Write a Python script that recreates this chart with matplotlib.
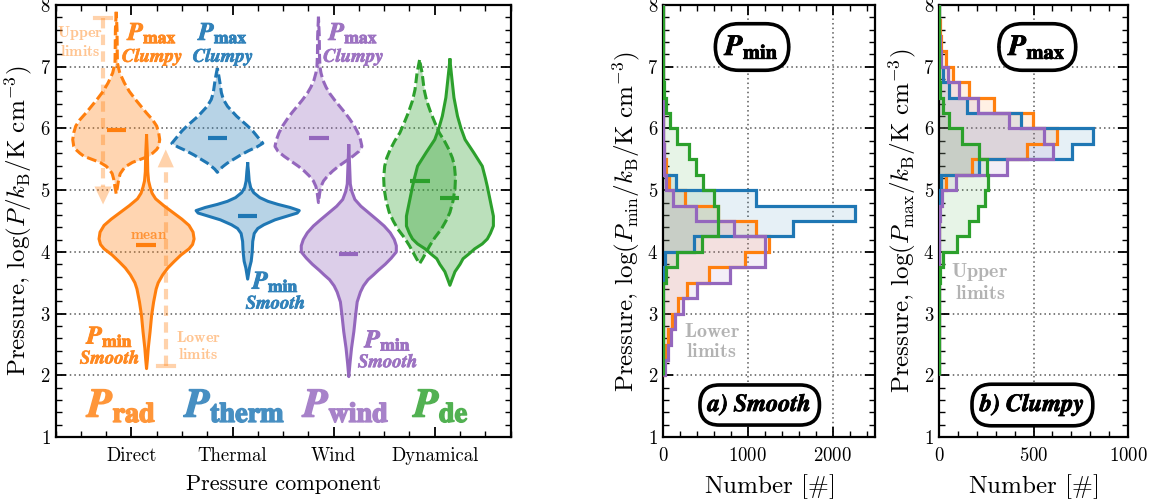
import numpy as np
import matplotlib
matplotlib.use("Agg")
import matplotlib.pyplot as plt
import matplotlib.colors as mcolors
import matplotlib.patheffects as pe
from matplotlib.ticker import MultipleLocator

plt.rcParams.update({
    "font.family": "serif",
    "font.serif": ["cmr10"],
    "mathtext.fontset": "cm",
    "axes.unicode_minus": False,
    "axes.formatter.use_mathtext": True,
})

# ---------------- data ----------------
categories = ["Direct", "Thermal", "Wind", "Dynamical"]
colors = ["#ff7f0e", "#1f77b4", "#9467bd", "#2ca02c"]
big_labels = [r"$\mathbfit{P}_{\mathbf{rad}}$", r"$\mathbfit{P}_{\mathbf{therm}}$",
              r"$\mathbfit{P}_{\mathbf{wind}}$", r"$\mathbfit{P}_{\mathbf{de}}$"]

mean_pmax = [5.98, 5.85, 5.85, 5.15]
mean_pmin = [4.12, 4.59, 3.97, 4.87]

# violin profiles: levels (log P) and half widths
direct_max_y = [7.89, 7.6, 7.3, 7.06, 6.9, 6.74, 6.6, 6.47, 6.35, 6.25, 6.14, 6.04, 5.93,
                5.82, 5.71, 5.66, 5.6, 5.55, 5.5, 5.45, 5.39, 5.34, 5.27, 5.18, 5.05, 4.94]
direct_max_w = [0.0, 0.008, 0.01, 0.012, 0.035, 0.08, 0.13, 0.19, 0.25, 0.30, 0.36, 0.40, 0.42,
                0.43, 0.42, 0.40, 0.36, 0.32, 0.24, 0.16, 0.10, 0.07, 0.04, 0.025, 0.012, 0.0]
direct_min_y = [5.88, 5.6, 5.3, 5.15, 5.05, 4.95, 4.86, 4.75, 4.64, 4.53, 4.43, 4.32, 4.21, 4.12,
                4.05, 3.95, 3.84, 3.74, 3.63, 3.5, 3.4, 3.19, 2.97, 2.71, 2.44, 2.25, 2.11]
direct_min_w = [0.0, 0.008, 0.012, 0.02, 0.035, 0.055, 0.09, 0.17, 0.26, 0.35, 0.42, 0.46, 0.47,
                0.455, 0.42, 0.34, 0.27, 0.21, 0.16, 0.115, 0.095, 0.07, 0.05, 0.035, 0.017,
                0.008, 0.0]
thermal_max_y = [6.98, 6.85, 6.74, 6.58, 6.47, 6.36, 6.28, 6.2, 6.12, 6.04, 5.96, 5.88, 5.82,
                 5.76, 5.7, 5.64, 5.57, 5.5, 5.44, 5.39, 5.34, 5.29]
thermal_max_w = [0.0, 0.015, 0.026, 0.04, 0.06, 0.10, 0.145, 0.19, 0.245, 0.30, 0.35, 0.39, 0.42,
                 0.45, 0.39, 0.31, 0.23, 0.16, 0.10, 0.06, 0.025, 0.0]
thermal_min_y = [5.43, 5.3, 5.15, 5.04, 4.96, 4.88, 4.82, 4.77, 4.72, 4.67, 4.63, 4.58, 4.52,
                 4.44, 4.38, 4.3, 4.17, 4.0, 3.85, 3.74, 3.56]
thermal_min_w = [0.0, 0.008, 0.015, 0.03, 0.06, 0.12, 0.20, 0.30, 0.42, 0.51, 0.49, 0.39, 0.27,
                 0.16, 0.10, 0.065, 0.05, 0.045, 0.035, 0.018, 0.0]
wind_max_y = [7.81, 7.5, 7.2, 7.0, 6.9, 6.78, 6.67, 6.57, 6.46, 6.36, 6.25, 6.15, 6.04, 5.93,
              5.82, 5.71, 5.63, 5.55, 5.47, 5.39, 5.31, 5.23, 5.15, 5.06, 4.95, 4.8]
wind_max_w = [0.0, 0.008, 0.01, 0.015, 0.025, 0.045, 0.075, 0.11, 0.16, 0.21, 0.265, 0.31, 0.355,
              0.39, 0.415, 0.43, 0.40, 0.34, 0.27, 0.20, 0.14, 0.09, 0.05, 0.025, 0.012, 0.0]
wind_min_y = [5.72, 5.4, 5.1, 4.98, 4.85, 4.74, 4.63, 4.52, 4.42, 4.31, 4.2, 4.1, 4.0, 3.9, 3.8,
              3.7, 3.63, 3.55, 3.45, 3.35, 3.19, 2.97, 2.71, 2.44, 2.2, 1.98]
wind_min_w = [0.0, 0.008, 0.015, 0.03, 0.06, 0.12, 0.20, 0.28, 0.35, 0.41, 0.45, 0.47, 0.47, 0.42,
              0.36, 0.29, 0.245, 0.19, 0.145, 0.115, 0.083, 0.067, 0.05, 0.027, 0.012, 0.0]
dyn_max_y = [7.11, 6.9, 6.63, 6.45, 6.26, 6.1, 5.93, 5.8, 5.66, 5.52, 5.39, 5.2, 5.02, 4.82,
             4.64, 4.5, 4.37, 4.23, 4.1, 3.98, 3.89, 3.81]
dyn_max_w = [0.0, 0.025, 0.045, 0.07, 0.11, 0.15, 0.195, 0.245, 0.29, 0.325, 0.345, 0.355, 0.35,
             0.33, 0.30, 0.26, 0.215, 0.15, 0.10, 0.06, 0.03, 0.0]
dyn_min_y = [7.11, 6.8, 6.5, 6.2, 6.0, 5.82, 5.61, 5.39, 5.2, 5.06, 4.9, 4.74, 4.58, 4.42, 4.3,
             4.21, 4.13, 4.05, 3.97, 3.89, 3.8, 3.68, 3.55, 3.46]
dyn_min_w = [0.0, 0.02, 0.04, 0.075, 0.11, 0.15, 0.235, 0.32, 0.35, 0.37, 0.39, 0.41, 0.43, 0.43,
             0.40, 0.37, 0.32, 0.245, 0.19, 0.13, 0.10, 0.05, 0.02, 0.0]

pmax_profiles = [(direct_max_y, direct_max_w), (thermal_max_y, thermal_max_w),
                 (wind_max_y, wind_max_w), (dyn_max_y, dyn_max_w)]
pmin_profiles = [(direct_min_y, direct_min_w), (thermal_min_y, thermal_min_w),
                 (wind_min_y, wind_min_w), (dyn_min_y, dyn_min_w)]

# histogram counts, bins of 0.25 dex from 2.0 to 8.0
bin_edges = np.arange(2.0, 8.01, 0.25)
pmin_direct = [10, 30, 60, 100, 178, 277, 540, 970, 1250, 1100, 650, 257, 75, 30, 10, 5,
               0, 0, 0, 0, 0, 0, 0, 0]
pmin_thermal = [0, 0, 0, 0, 0, 0, 8, 25, 367, 1530, 2265, 1095, 150, 10, 0, 0,
                0, 0, 0, 0, 0, 0, 0, 0]
pmin_wind = [28, 59, 99, 138, 230, 405, 787, 1200, 1200, 834, 388, 115, 40, 15, 8, 0,
             0, 0, 0, 0, 0, 0, 0, 0]
pmin_dyn = [0, 0, 0, 0, 0, 0, 40, 162, 460, 647, 652, 600, 467, 390, 312, 168,
            87, 40, 8, 4, 2, 0, 0, 0]
pmax_direct = [0, 0, 0, 0, 0, 0, 0, 0, 0, 0, 0, 8, 37, 174, 463, 625,
               495, 292, 157, 76, 37, 12, 5, 2]
pmax_thermal = [0, 0, 0, 0, 0, 0, 0, 0, 0, 0, 0, 0, 10, 213, 706, 817,
                433, 146, 51, 20, 5, 0, 0, 0]
pmax_wind = [0, 0, 0, 0, 0, 0, 0, 0, 0, 0, 5, 16, 90, 359, 604, 556,
             368, 204, 104, 46, 10, 5, 2, 0]
pmax_dyn = [0, 0, 0, 0, 0, 0, 5, 23, 93, 157, 204, 245, 257, 252, 213, 121,
            55, 19, 5, 2, 0, 0, 0, 0]

pmin_hists = [pmin_direct, pmin_thermal, pmin_wind, pmin_dyn]
pmax_hists = [pmax_direct, pmax_thermal, pmax_wind, pmax_dyn]

DASH = (0, (3.2, 1.3))
LABEL_FS = 18


def light(c, a):
    # colour c laid at opacity a over white, as a solid colour
    rgb = np.array(mcolors.to_rgb(c))
    return tuple(a * rgb + (1 - a))


def bold(c, w):
    return [pe.withStroke(linewidth=w, foreground=c)]


def style_axes(ax):
    ax.tick_params(which="both", direction="in", top=True, right=True, labelsize=13.5)
    ax.tick_params(which="major", length=7, width=1.3)
    ax.tick_params(which="minor", length=4, width=1.0)
    ax.tick_params(axis="x", pad=7)
    for s in ax.spines.values():
        s.set_linewidth(1.6)
    ax.set_ylim(1, 8)
    ax.yaxis.set_major_locator(MultipleLocator(1))
    ax.yaxis.set_minor_locator(MultipleLocator(0.2))
    ax.set_axisbelow(True)


def draw_violin(ax, xc, ys, hw, color, ls):
    ys = np.asarray(ys)
    hw = np.asarray(hw)
    ax.fill_betweenx(ys, xc - hw, xc + hw, color=color, alpha=0.32, lw=0, zorder=2)
    px = np.concatenate([xc - hw, (xc + hw)[::-1]])
    py = np.concatenate([ys, ys[::-1]])
    ax.plot(px, py, color=color, lw=2.2, ls=ls, zorder=3, solid_joinstyle="round")


def pair_label(ax, x, y, top, bottom, color):
    # "P_x" over a bold-italic tag, stacked so the two boxes just touch
    col = light(color, 0.92)
    ax.text(x, y - 0.2, top, color=col, ha="center", va="bottom", fontsize=18,
            math_fontfamily="stix", path_effects=bold(col, 0.7))
    ax.text(x, y - 0.21, r"$\mathbfit{%s}$" % bottom, color=col, ha="center",
            va="top", fontsize=13.5, math_fontfamily="stix", path_effects=bold(col, 0.5))


fig = plt.figure(figsize=(11.62, 5.03), dpi=100)
ax0 = fig.add_axes([0.0478, 0.131, 0.3916, 0.859])
ax1 = fig.add_axes([0.5706, 0.131, 0.1824, 0.859])
ax2 = fig.add_axes([0.8081, 0.131, 0.1627, 0.859])

# ---------------- violin panel ----------------
style_axes(ax0)
ax0.set_xlim(0.25, 4.75)
pos = np.arange(1, len(categories) + 1)
ax0.set_xticks(pos)
ax0.set_xticklabels(categories)
ax0.xaxis.set_minor_locator(MultipleLocator(0.25))
ax0.grid(axis="y", ls=(0, (1, 2)), color="0.35", lw=1.1)

for i, c in enumerate(colors):
    y, w = pmax_profiles[i]
    draw_violin(ax0, pos[i] - 0.15, y, w, c, DASH)
for i, c in enumerate(colors):
    y, w = pmin_profiles[i]
    draw_violin(ax0, pos[i] + 0.15, y, w, c, "-")
for i, c in enumerate(colors):
    ax0.hlines(mean_pmax[i], pos[i] - 0.24, pos[i] - 0.05, color=c, lw=3, zorder=4)
    ax0.hlines(mean_pmin[i], pos[i] + 0.05, pos[i] + 0.24, color=c, lw=3, zorder=4)

# limit arrows
lim_kw = dict(color=colors[0], alpha=0.35, zorder=1)
ax0.plot([0.72, 0.72], [7.79, 5.06], lw=3, ls=(0, (2.5, 1.5)), **lim_kw)
ax0.plot([0.64, 0.80], [7.79, 7.79], lw=3, **lim_kw)
ax0.fill([0.635, 0.805, 0.72], [5.06, 5.06, 4.77], lw=0, **lim_kw)
ax0.plot([1.34, 1.34], [2.145, 5.37], lw=3, ls=(0, (2.5, 1.5)), **lim_kw)
ax0.plot([1.26, 1.42], [2.145, 2.145], lw=3, **lim_kw)
ax0.fill([1.26, 1.42, 1.34], [5.37, 5.37, 5.66], lw=0, **lim_kw)

lt_kw = dict(color=colors[0], alpha=0.45, ha="center", va="center", fontsize=11.5,
             linespacing=1.15)
ax0.text(0.49, 7.41, r"$\mathbf{Upper}$" + "\n" + r"$\mathbf{limits}$", **lt_kw)
ax0.text(1.66, 2.48, r"$\mathbf{Lower}$" + "\n" + r"$\mathbf{limits}$", **lt_kw)
ax0.text(1.17, 4.27, r"$\mathbf{mean}$", color=colors[0], alpha=0.75, ha="center",
         va="center", fontsize=11)

# component annotations
top_x = [1.21, 1.91, 3.20]
for x, c in zip(top_x, colors[:3]):
    pair_label(ax0, x, 7.55, r"$\mathbfit{P}_{\mathbf{max}}$", "Clumpy", c)
bot_xy = [(0.79, 2.63), (2.43, 3.52), (3.54, 2.57)]
for (x, y), c in zip(bot_xy, colors[:3]):
    pair_label(ax0, x, y, r"$\mathbfit{P}_{\mathbf{min}}$", "Smooth", c)
big_x = [0.91, 2.03, 3.13, 4.07]
for x, s, c in zip(big_x, big_labels, colors):
    col = light(c, 0.82)
    ax0.text(x, 1.5, s, color=col, ha="center", va="center", fontsize=29,
             math_fontfamily="stix", path_effects=bold(col, 1.1))

ax0.set_xlabel("Pressure component", fontsize=16, labelpad=7)
ax0.set_ylabel(r"Pressure, $\log(P/k_{\rm B}/{\rm K\ cm^{-3}})$", fontsize=LABEL_FS)

# ---------------- histogram panels ----------------
box_kw = dict(boxstyle="round,pad=0.32,rounding_size=0.8", fc="white", ec="black", lw=2.6)
for ax, hists, xmax, major, minor in [(ax1, pmin_hists, 2500, 1000, 200),
                                      (ax2, pmax_hists, 1000, 500, 100)]:
    style_axes(ax)
    ax.set_xlim(0, xmax)
    ax.xaxis.set_major_locator(MultipleLocator(major))
    ax.xaxis.set_minor_locator(MultipleLocator(minor))
    ax.grid(ls=(0, (1, 2)), color="0.35", lw=1.1)
    for h, c in zip(hists, colors):
        ax.stairs(h, bin_edges, orientation="horizontal", fill=True, color=c, alpha=0.11,
                  lw=0, zorder=2)
    for h, c in zip(hists, colors):
        ax.stairs(h, bin_edges, orientation="horizontal", color=c, lw=2.3, zorder=3)
    ax.set_xlabel(r"Number [$\#$]", fontsize=LABEL_FS, labelpad=5)

ax1.set_ylabel(r"Pressure, $\log(P_{\rm min}/k_{\rm B}/{\rm K\ cm^{-3}})$", fontsize=LABEL_FS)
ax2.set_ylabel(r"Pressure, $\log(P_{\rm max}/k_{\rm B}/{\rm K\ cm^{-3}})$", fontsize=LABEL_FS)

box_fx = bold("black", 0.6)
ax1.text(1050, 7.32, r"$\mathbfit{P}_{\mathbf{min}}$", ha="center", va="center", fontsize=21,
         math_fontfamily="stix", bbox=box_kw, zorder=5, path_effects=box_fx)
ax1.text(1140, 1.52, r"$\mathbfit{a)\ Smooth}$", ha="center", va="center", fontsize=17.5,
         math_fontfamily="stix", bbox=box_kw, zorder=5, path_effects=box_fx)
ax1.text(573, 2.54, r"$\mathbf{Lower}$" + "\n" + r"$\mathbf{limits}$", color="0.7", ha="center",
         va="center", fontsize=14.5, linespacing=1.1, zorder=5)

ax2.text(520, 7.32, r"$\mathbfit{P}_{\mathbf{max}}$", ha="center", va="center", fontsize=21,
         math_fontfamily="stix", bbox=box_kw, zorder=5, path_effects=box_fx)
ax2.text(494, 1.52, r"$\mathbfit{b)\ Clumpy}$", ha="center", va="center", fontsize=17.5,
         math_fontfamily="stix", bbox=box_kw, zorder=5, path_effects=box_fx)
ax2.text(217, 3.51, r"$\mathbf{Upper}$" + "\n" + r"$\mathbf{limits}$", color="0.7", ha="center",
         va="center", fontsize=14.5, linespacing=1.1, zorder=5)

fig.savefig("out.png", dpi=100)
